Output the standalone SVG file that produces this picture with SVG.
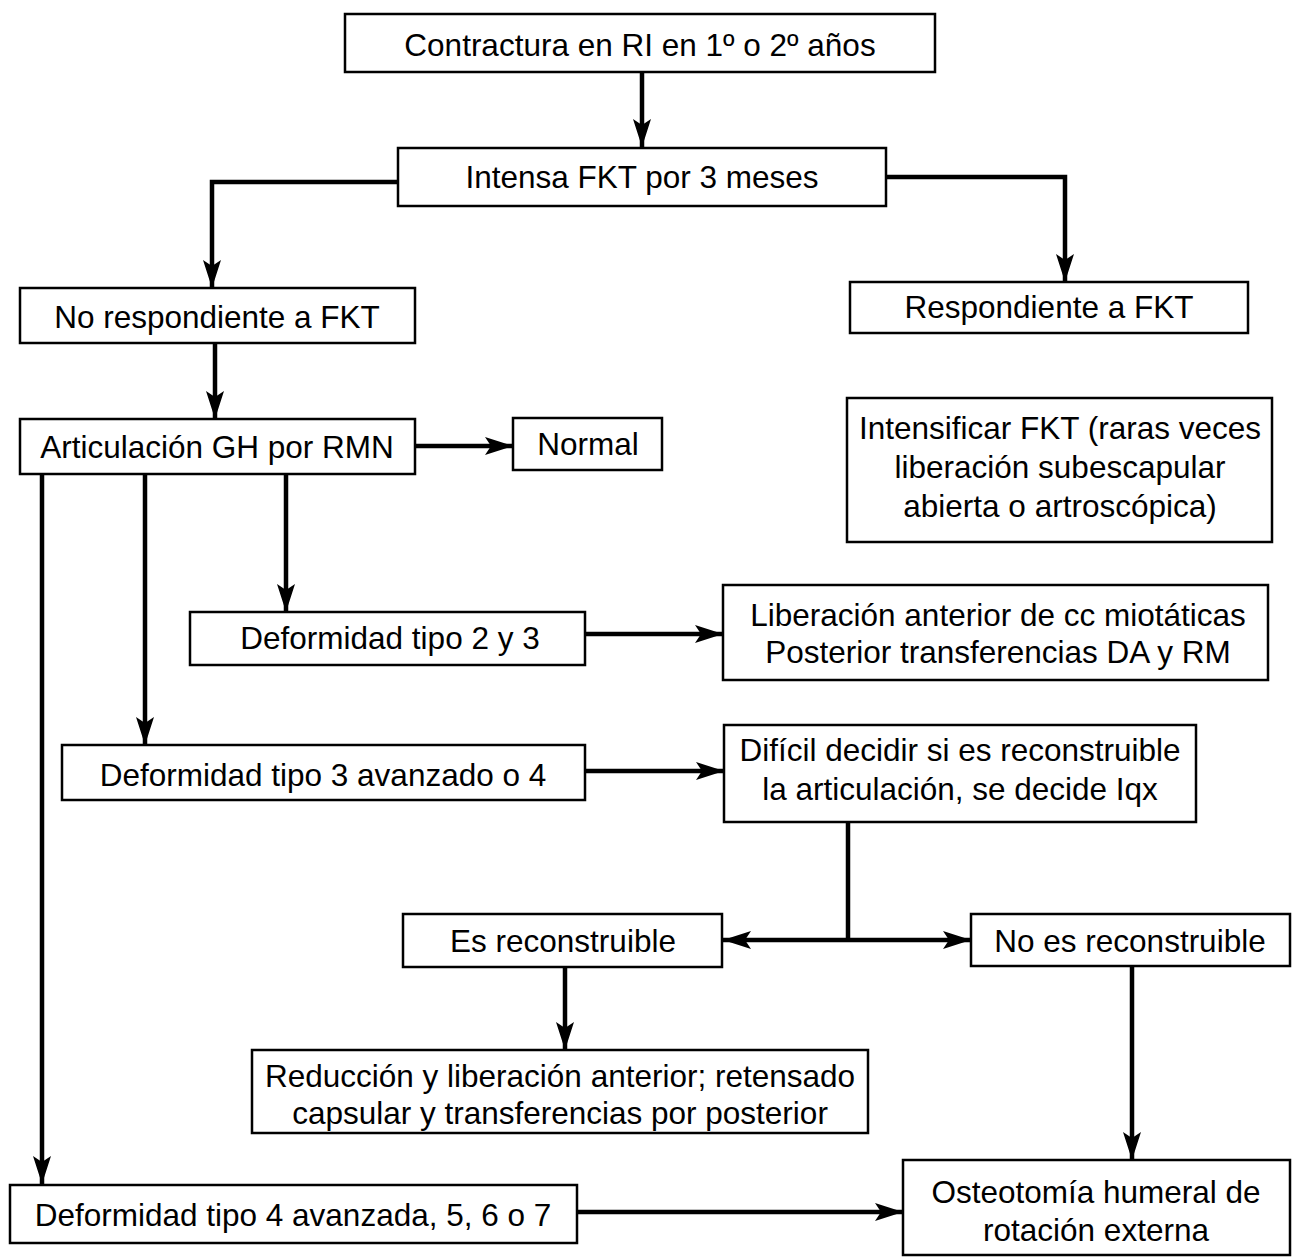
<svg xmlns="http://www.w3.org/2000/svg" width="1298" height="1259" viewBox="0 0 1298 1259">
<style>
.box{fill:#fff;stroke:#000;stroke-width:2.5}
.t{font-family:"Liberation Sans",Arial,sans-serif;font-size:31.5px;fill:#000;text-anchor:middle}
.c{fill:none;stroke:#000;stroke-width:4.5}
</style>
<defs>
<marker id="ah" markerUnits="userSpaceOnUse" markerWidth="30" markerHeight="20" refX="28" refY="9" orient="auto-start-reverse">
<path d="M0,0 L28,9 L0,18 L6,9 z" fill="#000"/>
</marker>
</defs>
<rect width="1298" height="1259" fill="#fff"/>
<g id="connectors">
<path class="c" d="M642,72 V147" marker-end="url(#ah)"/>
<path class="c" d="M398,182 H212 V288" marker-end="url(#ah)"/>
<path class="c" d="M886,177 H1065 V282" marker-end="url(#ah)"/>
<path class="c" d="M215,343 V419" marker-end="url(#ah)"/>
<path class="c" d="M415,446 H513" marker-end="url(#ah)"/>
<path class="c" d="M42,474 V1184" marker-end="url(#ah)"/>
<path class="c" d="M145,474 V745" marker-end="url(#ah)"/>
<path class="c" d="M286,474 V612" marker-end="url(#ah)"/>
<path class="c" d="M585,634 H723" marker-end="url(#ah)"/>
<path class="c" d="M585,771 H724" marker-end="url(#ah)"/>
<path class="c" d="M848,822 V940"/>
<path class="c" d="M723,940 H971" marker-start="url(#ah)" marker-end="url(#ah)"/>
<path class="c" d="M565,967 V1050" marker-end="url(#ah)"/>
<path class="c" d="M1132,966 V1160" marker-end="url(#ah)"/>
<path class="c" d="M577,1212 H903" marker-end="url(#ah)"/>
</g>
<g id="n1"><rect class="box" x="345" y="14" width="590" height="58"/><text class="t" x="640" y="56">Contractura en RI en 1º o 2º años</text></g>
<g id="n2"><rect class="box" x="398" y="148" width="488" height="58"/><text class="t" x="642" y="188">Intensa FKT por 3 meses</text></g>
<g id="n3"><rect class="box" x="20" y="288" width="395" height="55"/><text class="t" x="217" y="328">No respondiente a FKT</text></g>
<g id="n4"><rect class="box" x="850" y="282" width="398" height="51"/><text class="t" x="1049" y="318">Respondiente a FKT</text></g>
<g id="n5"><rect class="box" x="20" y="419" width="395" height="55"/><text class="t" x="217" y="458">Articulación GH por RMN</text></g>
<g id="n6"><rect class="box" x="513" y="418" width="149" height="52"/><text class="t" x="588" y="455">Normal</text></g>
<g id="n7"><rect class="box" x="847" y="398" width="425" height="144"/><text class="t" x="1060" y="439">Intensificar FKT (raras veces</text><text class="t" x="1060" y="478">liberación subescapular</text><text class="t" x="1060" y="517">abierta o artroscópica)</text></g>
<g id="n8"><rect class="box" x="190" y="612" width="395" height="53"/><text class="t" x="390" y="649">Deformidad tipo 2 y 3</text></g>
<g id="n9"><rect class="box" x="723" y="585" width="545" height="95"/><text class="t" x="998" y="626">Liberación anterior de cc miotáticas</text><text class="t" x="998" y="663">Posterior transferencias DA y RM</text></g>
<g id="n10"><rect class="box" x="62" y="745" width="523" height="55"/><text class="t" x="323" y="786">Deformidad tipo 3 avanzado o 4</text></g>
<g id="n11"><rect class="box" x="724" y="725" width="472" height="97"/><text class="t" x="960" y="761">Difícil decidir si es reconstruible</text><text class="t" x="960" y="800">la articulación, se decide Iqx</text></g>
<g id="n12"><rect class="box" x="403" y="914" width="319" height="53"/><text class="t" x="563" y="952">Es reconstruible</text></g>
<g id="n13"><rect class="box" x="971" y="914" width="319" height="52"/><text class="t" x="1130" y="952">No es reconstruible</text></g>
<g id="n14"><rect class="box" x="252" y="1050" width="616" height="83"/><text class="t" x="560" y="1087">Reducción y liberación anterior; retensado</text><text class="t" x="560" y="1124">capsular y transferencias por posterior</text></g>
<g id="n15"><rect class="box" x="10" y="1185" width="567" height="58"/><text class="t" x="293" y="1226">Deformidad tipo 4 avanzada, 5, 6 o 7</text></g>
<g id="n16"><rect class="box" x="903" y="1160" width="387" height="95"/><text class="t" x="1096" y="1203">Osteotomía humeral de</text><text class="t" x="1096" y="1241">rotación externa</text></g>
</svg>
